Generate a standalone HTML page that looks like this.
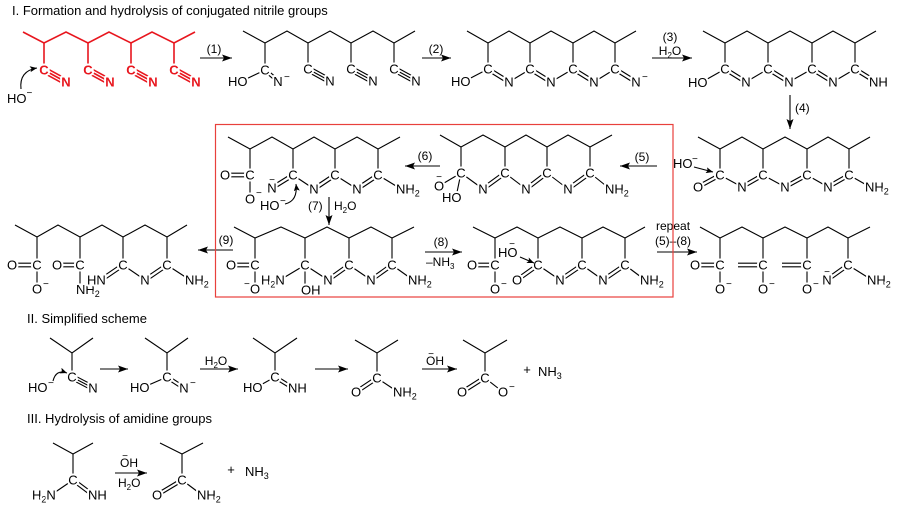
<!DOCTYPE html>
<html><head><meta charset="utf-8">
<style>
html,body{margin:0;padding:0;background:#fff;}
svg{display:block;}
text{font-family:"Liberation Sans",Arial,sans-serif;fill:#000;}
.a{font-size:13px;stroke:#fff;stroke-width:4px;paint-order:stroke;stroke-linejoin:round;}
.ar{font-size:13px;font-weight:bold;fill:#e8161e;stroke:#fff;stroke-width:4px;paint-order:stroke;stroke-linejoin:round;}
.c{text-anchor:middle;}
.m{font-size:10px;}
.l{font-size:12px;}
.ti{font-size:13px;}
.b line,.b polyline,.b path{stroke:#000;stroke-width:1.1;fill:none;}
.rb line,.rb polyline{stroke:#e8161e;stroke-width:1.6;fill:none;}
.ar2 line,.ar2 path{stroke:#000;stroke-width:1.1;fill:none;}
.wc circle{fill:#fff;stroke:none;}
</style></head><body>
<svg width="900" height="506" viewBox="0 0 900 506" xmlns="http://www.w3.org/2000/svg">
<defs>
<marker id="ah" markerUnits="userSpaceOnUse" markerWidth="10" markerHeight="7" refX="10" refY="3.5" orient="auto" viewBox="0 0 10 7" preserveAspectRatio="none"><path d="M0,0 L10,3.5 L0,7 L2,3.5 Z" fill="#000"/></marker>
<marker id="sh" markerUnits="userSpaceOnUse" markerWidth="7" markerHeight="6" refX="7" refY="3" orient="auto" viewBox="0 0 7 6" preserveAspectRatio="none"><path d="M0,0 L7,3 L0,6 L1.5,3 Z" fill="#000"/></marker>
</defs>

<!-- Titles -->
<text class="ti" x="12" y="15">I. Formation and hydrolysis of conjugated nitrile groups</text>
<text class="ti" x="27" y="323">II. Simplified scheme</text>
<text class="ti" x="27" y="423">III. Hydrolysis of amidine groups</text>

<!-- ===== BONDS ===== -->
<g class="rb">
<polyline points="23,32 44,43 66,32 88,43 109,32 131,43 152,32 174,43 195,32"/>
<line x1="44" y1="43" x2="44" y2="70"/><line x1="88" y1="43" x2="88" y2="70"/><line x1="131" y1="43" x2="131" y2="70"/><line x1="174" y1="43" x2="174" y2="70"/>
<g transform="translate(44,70)"><line x1="0" y1="0" x2="22" y2="12"/><line x1="-1.3" y1="2.4" x2="20.7" y2="14.4"/><line x1="1.3" y1="-2.4" x2="23.3" y2="9.6"/></g>
<g transform="translate(88,70)"><line x1="0" y1="0" x2="22" y2="12"/><line x1="-1.3" y1="2.4" x2="20.7" y2="14.4"/><line x1="1.3" y1="-2.4" x2="23.3" y2="9.6"/></g>
<g transform="translate(131,70)"><line x1="0" y1="0" x2="22" y2="12"/><line x1="-1.3" y1="2.4" x2="20.7" y2="14.4"/><line x1="1.3" y1="-2.4" x2="23.3" y2="9.6"/></g>
<g transform="translate(174,70)"><line x1="0" y1="0" x2="22" y2="12"/><line x1="-1.3" y1="2.4" x2="20.7" y2="14.4"/><line x1="1.3" y1="-2.4" x2="23.3" y2="9.6"/></g>
</g>

<g class="b">
<!-- S2 -->
<polyline points="243,31 265,43 287,31 308,43 330,31 351,43 373,31 394,43 415,31"/>
<line x1="265" y1="43" x2="265" y2="70"/><line x1="308" y1="43" x2="308" y2="69"/><line x1="351" y1="43" x2="351" y2="69"/><line x1="394" y1="43" x2="394" y2="69"/>
<line x1="265" y1="70" x2="242" y2="81"/>
<line x1="264" y1="71.2" x2="277" y2="82.2"/><line x1="266" y1="68.8" x2="279" y2="79.8"/>
<g transform="translate(308,69)"><line x1="0" y1="0" x2="22" y2="12"/><line x1="-1.3" y1="2.4" x2="20.7" y2="14.4"/><line x1="1.3" y1="-2.4" x2="23.3" y2="9.6"/></g>
<g transform="translate(351,69)"><line x1="0" y1="0" x2="22" y2="12"/><line x1="-1.3" y1="2.4" x2="20.7" y2="14.4"/><line x1="1.3" y1="-2.4" x2="23.3" y2="9.6"/></g>
<g transform="translate(394,69)"><line x1="0" y1="0" x2="22" y2="12"/><line x1="-1.3" y1="2.4" x2="20.7" y2="14.4"/><line x1="1.3" y1="-2.4" x2="23.3" y2="9.6"/></g>

<!-- S3 -->
<polyline points="467,31 488,43 509,31 530,43 551,31 573,43 594,31 615,43 636,31"/>
<line x1="488" y1="43" x2="488" y2="69"/><line x1="530" y1="43" x2="530" y2="69"/><line x1="573" y1="43" x2="573" y2="69"/><line x1="615" y1="43" x2="615" y2="69"/>
<line x1="488" y1="69" x2="465" y2="81"/>
<g transform="translate(488,69)"><line x1=".9" y1="-1.5" x2="21.9" y2="11.5"/><line x1="-.9" y1="1.5" x2="20.1" y2="14.5"/><line x1="21" y1="13" x2="42.5" y2="0"/></g>
<g transform="translate(530,69)"><line x1=".9" y1="-1.5" x2="21.9" y2="11.5"/><line x1="-.9" y1="1.5" x2="20.1" y2="14.5"/><line x1="21" y1="13" x2="43" y2="0"/></g>
<g transform="translate(573,69)"><line x1=".9" y1="-1.5" x2="21.9" y2="11.5"/><line x1="-.9" y1="1.5" x2="20.1" y2="14.5"/><line x1="21" y1="13" x2="42" y2="0"/></g>
<g transform="translate(615,69)"><line x1=".9" y1="-1.5" x2="21.9" y2="11.5"/><line x1="-.9" y1="1.5" x2="20.1" y2="14.5"/></g>

<!-- S4 -->
<polyline points="703,31 725,43 747,31 768,43 790,31 812,43 833,31 855,43 876,31"/>
<line x1="725" y1="43" x2="725" y2="69"/><line x1="768" y1="43" x2="768" y2="69"/><line x1="812" y1="43" x2="812" y2="69"/><line x1="855" y1="43" x2="855" y2="69"/>
<line x1="725" y1="69" x2="702" y2="82"/>
<g transform="translate(725,69)"><line x1=".9" y1="-1.5" x2="21.9" y2="11.5"/><line x1="-.9" y1="1.5" x2="20.1" y2="14.5"/><line x1="21" y1="13" x2="43" y2="0"/></g>
<g transform="translate(768,69)"><line x1=".9" y1="-1.5" x2="21.9" y2="11.5"/><line x1="-.9" y1="1.5" x2="20.1" y2="14.5"/><line x1="21" y1="13" x2="44" y2="0"/></g>
<g transform="translate(812,69)"><line x1=".9" y1="-1.5" x2="21.9" y2="11.5"/><line x1="-.9" y1="1.5" x2="20.1" y2="14.5"/><line x1="21" y1="13" x2="43" y2="0"/></g>
<g transform="translate(855,69)"><line x1=".9" y1="-1.5" x2="21.9" y2="11.5"/><line x1="-.9" y1="1.5" x2="20.1" y2="14.5"/></g>

<!-- S5 -->
<polyline points="698,137 720,149 742,137 763,149 785,137 807,149 828,137 849,149 870,137"/>
<line x1="720" y1="149" x2="720" y2="175"/><line x1="763" y1="149" x2="763" y2="175"/><line x1="807" y1="149" x2="807" y2="175"/><line x1="849" y1="149" x2="849" y2="175"/>
<line x1="698.8" y1="188.5" x2="720.8" y2="176.5"/><line x1="697.2" y1="185.5" x2="719.2" y2="173.5"/>
<g transform="translate(720,175)"><line x1="0" y1="0" x2="22" y2="12"/><line x1="22.8" y1="13.5" x2="43.8" y2="1.5"/><line x1="21.2" y1="10.5" x2="42.2" y2="-1.5"/></g>
<g transform="translate(763,175)"><line x1="0" y1="0" x2="22" y2="12"/><line x1="22.8" y1="13.5" x2="44.8" y2="1.5"/><line x1="21.2" y1="10.5" x2="43.2" y2="-1.5"/></g>
<g transform="translate(807,175)"><line x1="0" y1="0" x2="21" y2="12"/><line x1="21.8" y1="13.5" x2="42.8" y2="1.5"/><line x1="20.2" y1="10.5" x2="41.2" y2="-1.5"/></g>
<line x1="849" y1="175" x2="870" y2="187"/>

<!-- S6 -->
<polyline points="440,135 461,147 483,135 505,147 526,135 547,147 568,135 590,147 612,135"/>
<line x1="461" y1="147" x2="461" y2="173"/><line x1="505" y1="147" x2="505" y2="173"/><line x1="547" y1="147" x2="547" y2="173"/><line x1="590" y1="147" x2="590" y2="173"/>
<line x1="439" y1="186" x2="461" y2="173"/><line x1="461" y1="173" x2="456" y2="197"/>
<g transform="translate(461,173)"><line x1="0" y1="0" x2="22" y2="16"/><line x1="23" y1="17.4" x2="45" y2="1.4"/><line x1="21" y1="14.6" x2="43" y2="-1.4"/></g>
<g transform="translate(505,173)"><line x1="0" y1="0" x2="21" y2="16"/><line x1="22" y1="17.4" x2="43" y2="1.4"/><line x1="20" y1="14.6" x2="41" y2="-1.4"/></g>
<g transform="translate(547,173)"><line x1="0" y1="0" x2="21" y2="16"/><line x1="22" y1="17.4" x2="44" y2="1.4"/><line x1="20" y1="14.6" x2="42" y2="-1.4"/></g>
<line x1="590" y1="173" x2="610" y2="189"/>

<!-- S7 -->
<polyline points="228,137 250,149 272,137 293,149 314,137 335,149 357,137 378,149 400,137"/>
<line x1="250" y1="149" x2="250" y2="175"/><line x1="293" y1="149" x2="293" y2="175"/><line x1="335" y1="149" x2="335" y2="175"/><line x1="378" y1="149" x2="378" y2="175"/>
<line x1="225" y1="173.2" x2="250" y2="173.2"/><line x1="225" y1="176.8" x2="250" y2="176.8"/>
<line x1="250" y1="175" x2="250" y2="199"/>
<line x1="272.9" y1="189.5" x2="293.9" y2="176.5"/><line x1="271.1" y1="186.5" x2="292.1" y2="173.5"/>
<g transform="translate(293,175)"><line x1="0" y1="0" x2="21" y2="14"/><line x1="22" y1="15.5" x2="43" y2="1.5"/><line x1="20" y1="12.5" x2="41" y2="-1.5"/></g>
<g transform="translate(335,175)"><line x1="0" y1="0" x2="22" y2="14"/><line x1="23" y1="15.5" x2="44" y2="1.5"/><line x1="21" y1="12.5" x2="42" y2="-1.5"/></g>
<line x1="378" y1="175" x2="401" y2="189"/>

<!-- S8 -->
<polyline points="234,227 255,238 281,227 305,238 327,227 349,238 371,227 392,238 414,227"/>
<line x1="255" y1="238" x2="255" y2="265"/><line x1="305" y1="238" x2="305" y2="265"/><line x1="349" y1="238" x2="349" y2="265"/><line x1="392" y1="238" x2="392" y2="265"/>
<line x1="231" y1="263.2" x2="255" y2="263.2"/><line x1="231" y1="266.8" x2="255" y2="266.8"/>
<line x1="255" y1="265" x2="255" y2="289"/>
<line x1="280" y1="280" x2="305" y2="265"/>
<line x1="305" y1="265" x2="305" y2="290"/>
<line x1="305" y1="265" x2="328" y2="280"/>
<line x1="329" y1="281.4" x2="350" y2="266.4"/><line x1="327" y1="278.6" x2="348" y2="263.6"/>
<line x1="349" y1="265" x2="371" y2="280"/>
<line x1="372" y1="281.4" x2="393" y2="266.4"/><line x1="370" y1="278.6" x2="391" y2="263.6"/>
<line x1="392" y1="265" x2="413" y2="280"/>

<!-- S9 -->
<polyline points="473,227 495,238 517,227 538,238 560,227 582,238 603,227 625,238 645,227"/>
<line x1="495" y1="238" x2="495" y2="265"/><line x1="538" y1="238" x2="538" y2="265"/><line x1="582" y1="238" x2="582" y2="265"/><line x1="625" y1="238" x2="625" y2="265"/>
<line x1="472" y1="263.2" x2="495" y2="263.2"/><line x1="472" y1="266.8" x2="495" y2="266.8"/>
<line x1="495" y1="265" x2="495" y2="289"/>
<line x1="518" y1="281.4" x2="539" y2="266.4"/><line x1="516" y1="278.6" x2="537" y2="263.6"/>
<line x1="538" y1="265" x2="560" y2="280"/>
<line x1="561" y1="281.4" x2="583" y2="266.4"/><line x1="559" y1="278.6" x2="581" y2="263.6"/>
<line x1="582" y1="265" x2="603" y2="280"/>
<line x1="604" y1="281.4" x2="626" y2="266.4"/><line x1="602" y1="278.6" x2="624" y2="263.6"/>
<line x1="625" y1="265" x2="645" y2="280"/>

<!-- S10 -->
<polyline points="700,227 720,238 742,227 763,238 785,227 807,238 828,227 848,238 870,227"/>
<line x1="720" y1="238" x2="720" y2="265"/><line x1="763" y1="238" x2="763" y2="265"/><line x1="807" y1="238" x2="807" y2="265"/><line x1="848" y1="238" x2="848" y2="265"/>
<line x1="695" y1="263.2" x2="720" y2="263.2"/><line x1="695" y1="266.8" x2="720" y2="266.8"/>
<line x1="720" y1="265" x2="720" y2="289"/>
<line x1="738" y1="263.2" x2="763" y2="263.2"/><line x1="738" y1="266.8" x2="763" y2="266.8"/>
<line x1="763" y1="265" x2="763" y2="289"/>
<line x1="782" y1="263.2" x2="807" y2="263.2"/><line x1="782" y1="266.8" x2="807" y2="266.8"/>
<line x1="807" y1="265" x2="807" y2="289"/>
<line x1="828" y1="281.4" x2="849" y2="266.4"/><line x1="826" y1="278.6" x2="847" y2="263.6"/>
<line x1="848" y1="265" x2="872" y2="280"/>

<!-- S11 -->
<polyline points="15,225 37,237 58,225 80,237 102,225 123,237 145,225 167,237 187,225"/>
<line x1="37" y1="237" x2="37" y2="265"/><line x1="80" y1="237" x2="80" y2="265"/><line x1="123" y1="237" x2="123" y2="265"/><line x1="167" y1="237" x2="167" y2="265"/>
<line x1="12" y1="263.2" x2="37" y2="263.2"/><line x1="12" y1="266.8" x2="37" y2="266.8"/>
<line x1="37" y1="265" x2="37" y2="289"/>
<line x1="57" y1="263.2" x2="80" y2="263.2"/><line x1="57" y1="266.8" x2="80" y2="266.8"/>
<line x1="80" y1="265" x2="80" y2="289"/>
<line x1="102" y1="281.4" x2="124" y2="266.4"/><line x1="100" y1="278.6" x2="122" y2="263.6"/>
<line x1="123" y1="265" x2="145" y2="280"/>
<line x1="146" y1="281.4" x2="168" y2="266.4"/><line x1="144" y1="278.6" x2="166" y2="263.6"/>
<line x1="167" y1="265" x2="190" y2="280"/>

<!-- Section II -->
<polyline points="50,338 72,353 93,338"/><line x1="72" y1="353" x2="72" y2="377"/>
<line x1="72" y1="377" x2="93" y2="388"/><line x1="70.85" y1="379.2" x2="91.85" y2="390.2"/><line x1="73.15" y1="374.8" x2="94.15" y2="385.8"/>

<polyline points="145,338 167,353 188,338"/><line x1="167" y1="353" x2="167" y2="377"/>
<line x1="167" y1="377" x2="144" y2="387"/>
<line x1="166.1" y1="378.4" x2="183.1" y2="389.4"/><line x1="167.9" y1="375.6" x2="184.9" y2="386.6"/>

<polyline points="253,338 275,353 297,338"/><line x1="275" y1="353" x2="275" y2="377"/>
<line x1="275" y1="377" x2="257" y2="387"/>
<line x1="274.2" y1="378.4" x2="292.2" y2="389.4"/><line x1="275.8" y1="375.6" x2="293.8" y2="386.6"/>

<polyline points="355,340 377,353 398,340"/><line x1="377" y1="353" x2="377" y2="378"/>
<line x1="357" y1="393.4" x2="378" y2="379.4"/><line x1="355" y1="390.6" x2="376" y2="376.6"/>
<line x1="377" y1="378" x2="398" y2="392"/>

<polyline points="463,340 485,353 507,340"/><line x1="485" y1="353" x2="485" y2="378"/>
<line x1="463" y1="393.4" x2="485" y2="379.4"/><line x1="461" y1="390.6" x2="483" y2="376.6"/>
<line x1="485" y1="378" x2="503" y2="392"/>

<!-- Section III -->
<polyline points="53,443 73,454 93,443"/><line x1="73" y1="454" x2="73" y2="480"/>
<line x1="73" y1="480" x2="51" y2="495"/>
<line x1="72" y1="481.3" x2="92" y2="496.3"/><line x1="74" y1="478.7" x2="94" y2="493.7"/>

<polyline points="160,443 182,454 203,443"/><line x1="182" y1="454" x2="182" y2="480"/>
<line x1="157.8" y1="496.4" x2="182.8" y2="481.4"/><line x1="156.2" y1="493.6" x2="181.2" y2="478.6"/>
<line x1="182" y1="480" x2="202" y2="495"/>
</g>

<!-- ===== WHITE MASKS BEHIND ATOM LABELS ===== -->
<g class="wc">
<circle cx="44" cy="70" r="5.6"/><circle cx="88" cy="70" r="5.6"/><circle cx="131" cy="70" r="5.6"/><circle cx="174" cy="70" r="5.6"/>
<circle cx="66" cy="82" r="5.6"/><circle cx="110" cy="82" r="5.6"/><circle cx="153" cy="82" r="5.6"/><circle cx="196" cy="82" r="5.6"/>
<circle cx="242" cy="81" r="5.6"/><circle cx="265" cy="70" r="5.6"/><circle cx="278" cy="81" r="5.6"/>
<circle cx="308" cy="69" r="5.6"/><circle cx="330" cy="81" r="5.6"/><circle cx="351" cy="69" r="5.6"/><circle cx="373" cy="81" r="5.6"/><circle cx="394" cy="69" r="5.6"/><circle cx="416" cy="81" r="5.6"/>
<circle cx="465" cy="81" r="5.6"/>
<circle cx="488" cy="69" r="5.6"/><circle cx="530" cy="69" r="5.6"/><circle cx="573" cy="69" r="5.6"/><circle cx="615" cy="69" r="5.6"/>
<circle cx="509" cy="82" r="5.6"/><circle cx="551" cy="82" r="5.6"/><circle cx="594" cy="82" r="5.6"/><circle cx="636" cy="82" r="5.6"/>
<circle cx="702" cy="82" r="5.6"/>
<circle cx="725" cy="69" r="5.6"/><circle cx="768" cy="69" r="5.6"/><circle cx="812" cy="69" r="5.6"/><circle cx="855" cy="69" r="5.6"/>
<circle cx="746" cy="82" r="5.6"/><circle cx="789" cy="82" r="5.6"/><circle cx="833" cy="82" r="5.6"/><circle cx="874" cy="82" r="5.6"/>
<circle cx="698" cy="187" r="5.6"/>
<circle cx="720" cy="175" r="5.6"/><circle cx="763" cy="175" r="5.6"/><circle cx="807" cy="175" r="5.6"/><circle cx="849" cy="175" r="5.6"/>
<circle cx="742" cy="187" r="5.6"/><circle cx="785" cy="187" r="5.6"/><circle cx="828" cy="187" r="5.6"/><circle cx="870" cy="187" r="5.6"/>
<circle cx="439" cy="186" r="5.6"/><circle cx="456" cy="197" r="5.6"/>
<circle cx="461" cy="173" r="5.6"/><circle cx="505" cy="173" r="5.6"/><circle cx="547" cy="173" r="5.6"/><circle cx="590" cy="173" r="5.6"/>
<circle cx="483" cy="189" r="5.6"/><circle cx="526" cy="189" r="5.6"/><circle cx="568" cy="189" r="5.6"/><circle cx="610" cy="189" r="5.6"/>
<circle cx="225" cy="175" r="5.6"/><circle cx="250" cy="175" r="5.6"/><circle cx="293" cy="175" r="5.6"/><circle cx="335" cy="175" r="5.6"/><circle cx="378" cy="175" r="5.6"/>
<circle cx="250" cy="199" r="5.6"/><circle cx="272" cy="188" r="5.6"/>
<circle cx="314" cy="189" r="5.6"/><circle cx="357" cy="189" r="5.6"/><circle cx="401" cy="189" r="5.6"/>
<circle cx="231" cy="265" r="5.6"/><circle cx="255" cy="265" r="5.6"/><circle cx="305" cy="265" r="5.6"/><circle cx="349" cy="265" r="5.6"/><circle cx="392" cy="265" r="5.6"/>
<circle cx="255" cy="289" r="5.6"/><circle cx="280" cy="280" r="5.6"/><circle cx="306" cy="290" r="5.6"/>
<circle cx="328" cy="280" r="5.6"/><circle cx="371" cy="280" r="5.6"/><circle cx="413" cy="280" r="5.6"/>
<circle cx="472" cy="265" r="5.6"/><circle cx="495" cy="265" r="5.6"/><circle cx="538" cy="265" r="5.6"/><circle cx="582" cy="265" r="5.6"/><circle cx="625" cy="265" r="5.6"/>
<circle cx="495" cy="289" r="5.6"/><circle cx="517" cy="280" r="5.6"/>
<circle cx="560" cy="280" r="5.6"/><circle cx="603" cy="280" r="5.6"/><circle cx="645" cy="280" r="5.6"/>
<circle cx="695" cy="265" r="5.6"/><circle cx="720" cy="265" r="5.6"/><circle cx="763" cy="265" r="5.6"/><circle cx="807" cy="265" r="5.6"/><circle cx="848" cy="265" r="5.6"/>
<circle cx="720" cy="289" r="5.6"/><circle cx="763" cy="289" r="5.6"/><circle cx="807" cy="289" r="5.6"/>
<circle cx="827" cy="280" r="5.6"/><circle cx="872" cy="280" r="5.6"/>
<circle cx="12" cy="265" r="5.6"/><circle cx="37" cy="265" r="5.6"/><circle cx="57" cy="265" r="5.6"/><circle cx="80" cy="265" r="5.6"/><circle cx="123" cy="265" r="5.6"/><circle cx="167" cy="265" r="5.6"/>
<circle cx="37" cy="289" r="5.6"/><circle cx="81" cy="289" r="5.6"/><circle cx="101" cy="280" r="5.6"/><circle cx="145" cy="280" r="5.6"/><circle cx="190" cy="280" r="5.6"/>
<circle cx="72" cy="377" r="5.6"/><circle cx="93" cy="388" r="5.6"/>
<circle cx="167" cy="377" r="5.6"/><circle cx="144" cy="387" r="5.6"/><circle cx="184" cy="388" r="5.6"/>
<circle cx="275" cy="377" r="5.6"/><circle cx="257" cy="387" r="5.6"/><circle cx="293" cy="388" r="5.6"/>
<circle cx="377" cy="378" r="5.6"/><circle cx="356" cy="392" r="5.6"/><circle cx="398" cy="392" r="5.6"/>
<circle cx="485" cy="378" r="5.6"/><circle cx="462" cy="392" r="5.6"/><circle cx="503" cy="392" r="5.6"/>
<circle cx="73" cy="480" r="5.6"/><circle cx="51" cy="495" r="5.6"/><circle cx="93" cy="495" r="5.6"/>
<circle cx="182" cy="480" r="5.6"/><circle cx="157" cy="495" r="5.6"/><circle cx="202" cy="495" r="5.6"/>
</g>

<!-- ===== ATOM LABELS ===== -->
<!-- S1 red -->
<text class="ar c" x="44" y="74.7">C</text><text class="ar c" x="88" y="74.7">C</text><text class="ar c" x="131" y="74.7">C</text><text class="ar c" x="174" y="74.7">C</text>
<text class="ar c" x="66" y="86.7">N</text><text class="ar c" x="110" y="86.7">N</text><text class="ar c" x="153" y="86.7">N</text><text class="ar c" x="196" y="86.7">N</text>
<text class="a" x="7" y="103">HO</text><text class="m" x="26.5" y="96">−</text>

<!-- S2 -->
<text class="a" x="228" y="86">HO</text>
<text class="a c" x="265" y="74.7">C</text>
<text class="a c" x="278" y="86">N</text><text class="m" x="284" y="80">−</text>
<text class="a c" x="308" y="73.7">C</text><text class="a c" x="330" y="85.7">N</text>
<text class="a c" x="351" y="73.7">C</text><text class="a c" x="373" y="85.7">N</text>
<text class="a c" x="394" y="73.7">C</text><text class="a c" x="416" y="85.7">N</text>

<!-- S3 -->
<text class="a" x="451" y="86">HO</text>
<text class="a c" x="488" y="73.7">C</text><text class="a c" x="530" y="73.7">C</text><text class="a c" x="573" y="73.7">C</text><text class="a c" x="615" y="73.7">C</text>
<text class="a c" x="509" y="86.7">N</text><text class="a c" x="551" y="86.7">N</text><text class="a c" x="594" y="86.7">N</text><text class="a c" x="636" y="86.7">N</text>
<text class="m" x="642" y="80">−</text>

<!-- S4 -->
<text class="a" x="688" y="87">HO</text>
<text class="a c" x="725" y="73.7">C</text><text class="a c" x="768" y="73.7">C</text><text class="a c" x="812" y="73.7">C</text><text class="a c" x="855" y="73.7">C</text>
<text class="a c" x="746" y="86.7">N</text><text class="a c" x="789" y="86.7">N</text><text class="a c" x="833" y="86.7">N</text>
<text class="a" x="869" y="86.7">NH</text>

<!-- S5 -->
<text class="a c" x="698" y="191.7">O</text>
<text class="a c" x="720" y="179.7">C</text><text class="a c" x="763" y="179.7">C</text><text class="a c" x="807" y="179.7">C</text><text class="a c" x="849" y="179.7">C</text>
<text class="a c" x="742" y="191.7">N</text><text class="a c" x="785" y="191.7">N</text><text class="a c" x="828" y="191.7">N</text>
<text class="a" x="865" y="191.7">NH<tspan font-size="9" dy="3">2</tspan></text>
<text class="a" x="673" y="168">HO</text><text class="m" x="692" y="162">−</text>

<!-- S6 -->
<text class="a c" x="439" y="190.7">O</text><text class="m c" x="439" y="180">−</text>
<text class="a" x="442" y="202">HO</text>
<text class="a c" x="461" y="177.7">C</text><text class="a c" x="505" y="177.7">C</text><text class="a c" x="547" y="177.7">C</text><text class="a c" x="590" y="177.7">C</text>
<text class="a c" x="483" y="193.7">N</text><text class="a c" x="526" y="193.7">N</text><text class="a c" x="568" y="193.7">N</text>
<text class="a" x="605" y="193.7">NH<tspan font-size="9" dy="3">2</tspan></text>

<!-- S7 -->
<text class="a c" x="225" y="179.7">O</text>
<text class="a c" x="250" y="179.7">C</text><text class="a c" x="293" y="179.7">C</text><text class="a c" x="335" y="179.7">C</text><text class="a c" x="378" y="179.7">C</text>
<text class="a c" x="250" y="203.7">O</text><text class="m" x="256" y="196">−</text>
<text class="a" x="260" y="210">HO</text><text class="m" x="280" y="204">−</text>
<text class="a c" x="272" y="192.7">N</text><text class="m c" x="272" y="183">−</text>
<text class="a c" x="314" y="193.7">N</text><text class="a c" x="357" y="193.7">N</text>
<text class="a" x="396" y="193.7">NH<tspan font-size="9" dy="3">2</tspan></text>

<!-- S8 -->
<text class="a c" x="231" y="269.7">O</text>
<text class="a c" x="255" y="269.7">C</text><text class="a c" x="305" y="269.7">C</text><text class="a c" x="349" y="269.7">C</text><text class="a c" x="392" y="269.7">C</text>
<text class="a c" x="255" y="293.7">O</text><text class="m" x="244" y="287">−</text>
<text class="a" x="261" y="284.7">H<tspan font-size="9" dy="3">2</tspan><tspan dy="-3">N</tspan></text>
<text class="a" x="301" y="294.7">OH</text>
<text class="a c" x="328" y="284.7">N</text><text class="a c" x="371" y="284.7">N</text>
<text class="a" x="408" y="284.7">NH<tspan font-size="9" dy="3">2</tspan></text>

<!-- S9 -->
<text class="a c" x="472" y="269.7">O</text>
<text class="a c" x="495" y="269.7">C</text><text class="a c" x="538" y="269.7">C</text><text class="a c" x="582" y="269.7">C</text><text class="a c" x="625" y="269.7">C</text>
<text class="a c" x="495" y="293.7">O</text><text class="m" x="501" y="287">−</text>
<text class="a" x="498" y="257">HO</text><text class="m c" x="512" y="247">−</text>
<text class="a c" x="517" y="284.7">O</text>
<text class="a c" x="560" y="284.7">N</text><text class="a c" x="603" y="284.7">N</text>
<text class="a" x="640" y="284.7">NH<tspan font-size="9" dy="3">2</tspan></text>

<!-- S10 -->
<text class="a c" x="695" y="269.7">O</text>
<text class="a c" x="720" y="269.7">C</text><text class="a c" x="763" y="269.7">C</text><text class="a c" x="807" y="269.7">C</text><text class="a c" x="848" y="269.7">C</text>
<text class="a c" x="720" y="293.7">O</text><text class="m" x="726" y="287">−</text>
<text class="a c" x="763" y="293.7">O</text><text class="m" x="769" y="287">−</text>
<text class="a c" x="807" y="293.7">O</text><text class="m" x="813" y="287">−</text>
<text class="a c" x="827" y="284.7">N</text><text class="m c" x="827" y="275">−</text>
<text class="a" x="867" y="284.7">NH<tspan font-size="9" dy="3">2</tspan></text>

<!-- S11 -->
<text class="a c" x="12" y="269.7">O</text><text class="a c" x="37" y="269.7">C</text>
<text class="a c" x="57" y="269.7">O</text><text class="a c" x="80" y="269.7">C</text>
<text class="a c" x="123" y="269.7">C</text><text class="a c" x="167" y="269.7">C</text>
<text class="a c" x="37" y="293.7">O</text><text class="m" x="43" y="287">−</text>
<text class="a" x="76" y="294">NH<tspan font-size="9" dy="3">2</tspan></text>
<text class="a" x="87" y="284.7">HN</text>
<text class="a c" x="145" y="284.7">N</text>
<text class="a" x="185" y="284.7">NH<tspan font-size="9" dy="3">2</tspan></text>

<!-- Section II labels -->
<text class="a c" x="72" y="381.7">C</text><text class="a c" x="93" y="392.7">N</text>
<text class="a" x="28" y="392">HO</text><text class="m" x="48" y="386">−</text>
<text class="a" x="130" y="392">HO</text><text class="a c" x="167" y="381.7">C</text><text class="a c" x="184" y="392.7">N</text><text class="m" x="190" y="386">−</text>
<text class="a" x="243" y="392">HO</text><text class="a c" x="275" y="381.7">C</text><text class="a" x="288" y="392.7">NH</text>
<text class="a c" x="377" y="382.7">C</text><text class="a c" x="356" y="396.7">O</text><text class="a" x="393" y="396.7">NH<tspan font-size="9" dy="3">2</tspan></text>
<text class="a c" x="485" y="382.7">C</text><text class="a c" x="462" y="396.7">O</text><text class="a c" x="503" y="396.7">O</text><text class="m" x="509" y="390">−</text>
<text class="ti c" x="527" y="374">+</text>
<text class="ti" x="538" y="376">NH<tspan font-size="9" dy="3">3</tspan></text>

<!-- Section III labels -->
<text class="a c" x="73" y="484.7">C</text>
<text class="a" x="32" y="499.7">H<tspan font-size="9" dy="3">2</tspan><tspan dy="-3">N</tspan></text>
<text class="a" x="88" y="499.7">NH</text>
<text class="a c" x="182" y="484.7">C</text><text class="a c" x="157" y="499.7">O</text>
<text class="a" x="197" y="499.7">NH<tspan font-size="9" dy="3">2</tspan></text>
<text class="ti c" x="231" y="474">+</text>
<text class="ti" x="245" y="476">NH<tspan font-size="9" dy="3">3</tspan></text>

<!-- ===== ARROWS ===== -->
<g class="ar2">
<line x1="200" y1="58" x2="232" y2="58" marker-end="url(#ah)"/>
<line x1="422" y1="58" x2="451" y2="58" marker-end="url(#ah)"/>
<line x1="652" y1="58" x2="692" y2="58" marker-end="url(#ah)"/>
<line x1="790" y1="95" x2="790" y2="129" marker-end="url(#ah)"/>
<line x1="657" y1="166" x2="620" y2="166" marker-end="url(#ah)"/>
<line x1="440" y1="166" x2="405" y2="166" marker-end="url(#ah)"/>
<line x1="329" y1="197" x2="329" y2="225" marker-end="url(#ah)"/>
<line x1="425" y1="252" x2="462" y2="252" marker-end="url(#ah)"/>
<line x1="233" y1="250" x2="198" y2="250" marker-end="url(#ah)"/>
<line x1="657" y1="252" x2="697" y2="252" marker-end="url(#ah)"/>
<line x1="100" y1="369" x2="128" y2="369" marker-end="url(#ah)"/>
<line x1="200" y1="369" x2="238" y2="369" marker-end="url(#ah)"/>
<line x1="315" y1="369" x2="348" y2="369" marker-end="url(#ah)"/>
<line x1="422" y1="369" x2="457" y2="369" marker-end="url(#ah)"/>
<line x1="115" y1="473" x2="147" y2="473" marker-end="url(#ah)"/>
<!-- mechanism arrows -->
<path d="M21,89 Q19,71 37,68" marker-end="url(#sh)"/>
<line x1="694" y1="167" x2="713" y2="172" marker-end="url(#sh)"/>
<path d="M285,204 Q298,201 296,184" marker-end="url(#sh)"/>
<line x1="520" y1="257" x2="534" y2="263" marker-end="url(#sh)"/>
<path d="M53,381 Q56,369 67,373" marker-end="url(#sh)"/>
</g>

<!-- arrow labels -->
<text class="l c" x="214" y="53">(1)</text>
<text class="l c" x="436" y="53">(2)</text>
<text class="l c" x="670" y="41">(3)</text>
<text class="l c" x="670" y="55">H<tspan font-size="8" dy="3">2</tspan><tspan dy="-3">O</tspan></text>
<text class="l" x="795" y="112">(4)</text>
<text class="l c" x="642" y="161">(5)</text>
<text class="l c" x="425" y="160">(6)</text>
<text class="l" x="308" y="210">(7)</text>
<text class="l" x="334" y="210">H<tspan font-size="8" dy="3">2</tspan><tspan dy="-3">O</tspan></text>
<text class="l c" x="441" y="246">(8)</text>
<text class="l" x="426" y="266">–NH<tspan font-size="8" dy="3">3</tspan></text>
<text class="l c" x="226" y="244">(9)</text>
<text class="l" x="656" y="230">repeat</text>
<text class="l" x="655" y="245">(5)–(8)</text>
<text class="l c" x="216" y="365">H<tspan font-size="8" dy="3">2</tspan><tspan dy="-3">O</tspan></text>
<text class="l" x="426" y="365">OH</text><text class="m c" x="431" y="357">−</text>
<text class="l" x="120" y="467">OH</text><text class="m c" x="125" y="459">−</text>
<text class="l" x="118" y="487">H<tspan font-size="8" dy="3">2</tspan><tspan dy="-3">O</tspan></text>

<!-- red box -->
<rect x="215.5" y="124.5" width="457.5" height="172.5" fill="none" stroke="#e8403c" stroke-width="1.2"/>
</svg>
</body></html>
